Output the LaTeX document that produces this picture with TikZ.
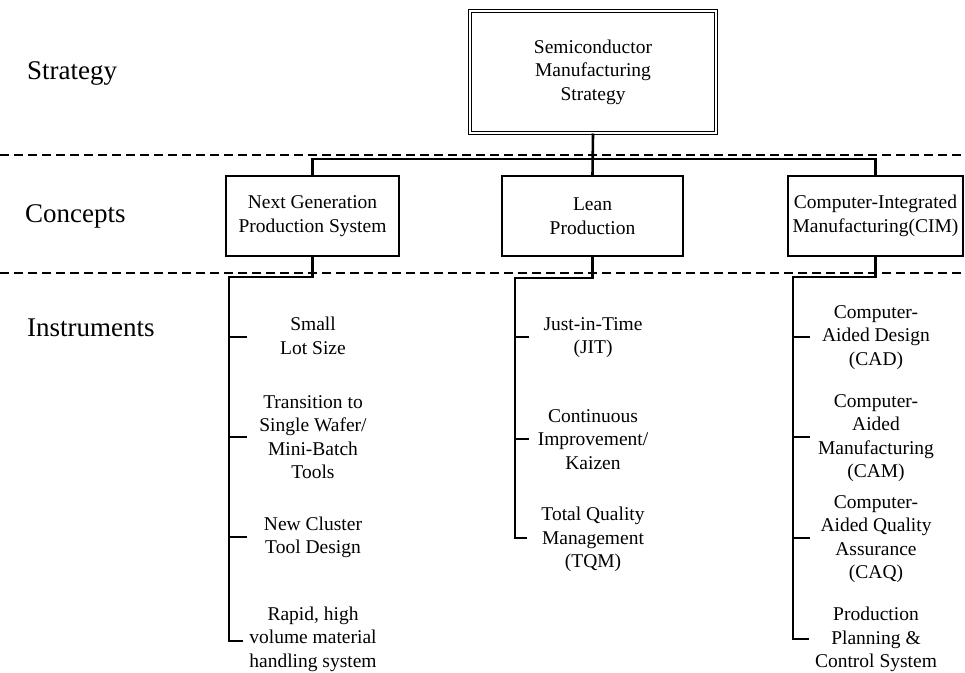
\documentclass[tikz,border=0pt]{standalone}
\usepackage{fontspec}
\setmainfont{Liberation Serif}
\begin{document}
\begin{tikzpicture}[x=1pt,y=-1pt,
  lbl/.style={font=\fontsize{27}{32}\selectfont, inner sep=0pt, anchor=base west},
  item/.style={font=\fontsize{19.5}{23.5}\selectfont, align=center, inner sep=0pt},
  cbox/.style={draw, line width=1.3pt, font=\fontsize{19.5}{23.5}\selectfont, align=center, minimum height=80pt, inner sep=0pt},
  conn/.style={line width=2.6pt},
  dashline/.style={line width=1.5pt, dash pattern=on 9pt off 5pt}]
\useasboundingbox (0,0) rectangle (965,672);
% layer labels
\node[lbl] (lstr) at (27,79) {Strategy};
\node[lbl] (lcon) at (25,222) {Concepts};
\node[lbl] (lins) at (27,336) {Instruments};
% dashed separators
\draw[dashline] (0,155) coordinate (d1a) -- (965,155) coordinate (d1b);
\draw[dashline] (0,273) coordinate (d2a) -- (965,273) coordinate (d2b);
% strategy box
\node[draw, double, double distance=2.4pt, line width=1pt, minimum width=246pt, minimum height=122pt,
      font=\fontsize{19.5}{23.5}\selectfont, align=center, inner sep=0pt] (top) at (593,72)
  {Semiconductor\\Manufacturing\\Strategy};
% concept boxes
\node[cbox, minimum width=173pt] (ng) at (312.5,216) {Next Generation\\Production System};
\node[cbox, minimum width=181pt] (lean) at (592.5,216) {Lean\\Production};
\node[cbox, minimum width=175pt] (cim) at (875.5,216) {Computer-Integrated\\Manufacturing(CIM)};
% bus
\coordinate (busy) at (0,159);
\draw[conn] (ng.north) -- (ng.north |- busy) -- (cim.north |- busy) -- (cim.north);
\draw[conn] (top.south) -- (lean.north);
% instruments: NGPS
\node[item] (n1) at (313,336) {Small\\Lot Size};
\node[item] (n2) at (313,437) {Transition to\\Single Wafer/\\Mini-Batch\\Tools};
\node[item] (n3) at (313,537.5) {New Cluster\\Tool Design};
\node[item] (n4) at (313,639) {Rapid, high\\volume material\\handling system};
\coordinate (ngs) at (229,277);
\coordinate (ngb) at (229,641);
\draw[conn] (ng.south) -- (ng.south |- ngs) -- (ngs) -- (ngb) -- ++(14,0);
\draw[conn] (229,337) -- (247,337);
\draw[conn] (229,437) -- (247,437);
\draw[conn] (229,537) -- (247,537);
% instruments: Lean
\node[item] (l1) at (593,337.5) {Just-in-Time\\(JIT)};
\node[item] (l2) at (593,439.5) {Continuous\\Improvement/\\Kaizen};
\node[item] (l3) at (593,539.5) {Total Quality\\Management\\(TQM)};
\coordinate (ls) at (515,278);
\coordinate (lb) at (515,538);
\draw[conn] (lean.south) -- (lean.south |- ls) -- (ls) -- (lb) -- ++(12,0);
\draw[conn] (515,337) -- (529,337);
\draw[conn] (515,439) -- (529,439);
% instruments: CIM
\node[item] (c1) at (876,337.5) {Computer-\\Aided Design\\(CAD)};
\node[item] (c2) at (876,438) {Computer-\\Aided\\Manufacturing\\(CAM)};
\node[item] (c3) at (876,539) {Computer-\\Aided Quality\\Assurance\\(CAQ)};
\node[item] (c4) at (876,639.5) {Production\\Planning \&\\Control System};
\coordinate (cs) at (793,277);
\coordinate (cb) at (793,639);
\draw[conn] (cim.south) -- (cim.south |- cs) -- (cs) -- (cb) -- ++(16,0);
\draw[conn] (793,337) -- (810,337);
\draw[conn] (793,437) -- (810,437);
\draw[conn] (793,538) -- (810,538);
\end{tikzpicture}
\end{document}
